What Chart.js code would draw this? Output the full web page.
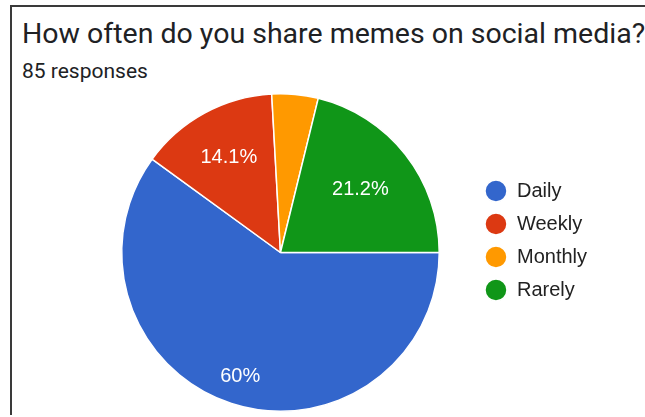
<!DOCTYPE html>
<html>
<head>
<meta charset="utf-8">
<script src="https://cdn.jsdelivr.net/npm/chart.js@4.4.0/dist/chart.umd.min.js"></script>
<style>
    html, body {
        margin: 0;
        padding: 0;
        background: #fff;
    }

    #marco {
        position: relative;
        width: 645px;
        height: 417px;
        overflow: hidden;
    }

    #borde {
        position: absolute;
        left: 10px;
        top: 5px;
        width: 640px;
        height: 408px;
        border-left: 2px solid #3a3a3a;
        border-top: 2px solid #3a3a3a;
    }

    #titulo {
        position: absolute;
        left: 22px;
        top: 17px;
        font-family: Roboto, sans-serif;
        font-size: 28.5px;
        line-height: normal;
        color: #202124;
        white-space: nowrap;
    }

    #respuestas {
        position: absolute;
        left: 22px;
        top: 59px;
        font-family: Roboto, sans-serif;
        font-size: 21px;
        line-height: normal;
        color: #202124;
        white-space: nowrap;
    }

    #grafica {
        position: absolute;
        left: 0;
        top: 0;
    }
</style>
</head>
<body>
<div id="marco">
    <div id="borde"></div>
    <div id="titulo">How often do you share memes on social media?</div>
    <div id="respuestas">85 responses</div>
    <canvas id="grafica" width="645" height="417"></canvas>
</div>
<script>
(function () {
    var ETIQUETAS = ['Daily', 'Weekly', 'Monthly', 'Rarely'];
    var RESPUESTAS = [51, 12, 4, 18];
    var COLORES = ['#3366cc', '#dc3912', '#ff9900', '#109618'];

    // distancia del porcentaje al centro, como fraccion del radio
    var POS_ETIQUETA = [0.82, 0.68, 0.7, 0.64];

    function porcentaje(v, total) {
        var p = (v / total * 100).toFixed(1);

        return p.replace(/\.0$/, '') + '%';
    }

    var etiquetasPie = {
        id: 'etiquetasPie',
        afterDatasetsDraw: function (chart) {
            var ctx = chart.ctx;
            var datos = chart.data.datasets[0].data;
            var total = datos.reduce(function (a, b) { return a + b; }, 0);

            ctx.save();
            ctx.font = '20px "Liberation Sans", Arial, sans-serif';
            ctx.fillStyle = '#ffffff';
            ctx.textAlign = 'center';
            ctx.textBaseline = 'middle';

            chart.getDatasetMeta(0).data.forEach(function (arco, i) {
                // las porciones pequeñas van sin etiqueta
                if (datos[i] / total < 0.05) {
                    return;
                }

                var p = arco.getProps(['x', 'y', 'startAngle', 'endAngle', 'outerRadius'], true);
                var medio = (p.startAngle + p.endAngle) / 2;
                var r = p.outerRadius * POS_ETIQUETA[i];

                ctx.fillText(porcentaje(datos[i], total), p.x + Math.cos(medio) * r, p.y + Math.sin(medio) * r);
            });

            ctx.restore();
        },
    };

    // sube la leyenda para que no quede centrada con el pastel
    var subirLeyenda = {
        id: 'subirLeyenda',
        afterLayout: function (chart) {
            if (chart.legend) {
                chart.legend.top -= 12;
                chart.legend.bottom -= 12;
            }
        },
    };

    new Chart(document.getElementById('grafica'), {
        type: 'pie',
        data: {
            labels: ETIQUETAS,
            datasets: [{
                data: RESPUESTAS,
                backgroundColor: COLORES,
                borderColor: '#ffffff',
                borderWidth: 1.5,
            }],
        },
        plugins: [etiquetasPie, subirLeyenda],
        options: {
            responsive: false,
            animation: false,
            rotation: 90,
            layout: {
                padding: {left: 89, top: 93, bottom: 5, right: 48},
            },
            plugins: {
                tooltip: {enabled: false},
                legend: {
                    position: 'right',
                    labels: {
                        usePointStyle: true,
                        pointStyle: 'circle',
                        boxHeight: 15.5,
                        pointStyleWidth: 22,
                        padding: 13,
                        color: '#222222',
                        font: {family: '"Liberation Sans", Arial, sans-serif', size: 20},
                    },
                },
            },
        },
    });
})();
</script>
</body>
</html>
